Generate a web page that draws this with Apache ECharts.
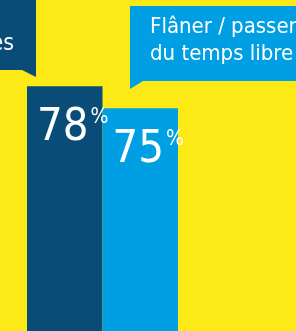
<!DOCTYPE html>
<html>
<head>
    <meta charset="utf-8">
    <title>Loisirs</title>
    <script src="https://cdn.jsdelivr.net/npm/echarts@6/dist/echarts.min.js"></script>
    <style>
        body { margin: 0; background: #fde916; }
    </style>
</head>
<body>
<div id="main" style="width: 296px;height:331px;"></div>
<script type="text/javascript">
    // données
    var categories = ['Activités culturelles', 'Flâner / passer du temps libre'];
    var values = [78, 75];
    var colors = ['#0a4c78', '#009fe3'];

    var font = '"Liberation Sans Narrow", "DejaVu Sans Condensed", sans-serif';

    var myChart = echarts.init(document.getElementById('main'));

    myChart.setOption({
        backgroundColor: '#fde916',
        animation: false,
        grid: { left: 27, right: 118, top: 0, bottom: 0 },
        xAxis: {
            type: 'category',
            data: categories,
            show: false
        },
        yAxis: {
            type: 'value',
            min: 44.6,
            max: 89.75,
            show: false
        },
        series: [{
            type: 'bar',
            barCategoryGap: 0,
            data: values.map(function (v, i) {
                return { value: v, itemStyle: { color: colors[i] } };
            }),
            label: {
                show: true,
                position: [10, 18],
                formatter: function (p) { return '{n|' + p.value + '}{p|%}'; },
                rich: {
                    n: { fontFamily: font, fontSize: 45, color: '#fff', lineHeight: 48 },
                    p: { fontFamily: font, fontSize: 21, color: '#fff', verticalAlign: 'top', padding: [3, 0, 0, 2] }
                }
            }
        }],
        graphic: [
            // bulle foncée (coupée à gauche)
            { type: 'rect', shape: { x: -10, y: 0, width: 46, height: 70 }, style: { fill: colors[0] } },
            { type: 'polygon', shape: { points: [[22, 70], [36, 70], [36, 77]] }, style: { fill: colors[0] } },
            { type: 'text', x: 14, y: 44, style: { text: 'es', fill: '#fff', fontFamily: font, fontSize: 23, align: 'right', verticalAlign: 'middle' } },
            // bulle claire
            { type: 'rect', shape: { x: 130, y: 6, width: 180, height: 75 }, style: { fill: colors[1] } },
            { type: 'polygon', shape: { points: [[130, 81], [143, 81], [130, 89]] }, style: { fill: colors[1] } },
            { type: 'text', x: 150, y: 14, style: { text: 'Flâner / passer\ndu temps libre', fill: '#fff', fontFamily: font, fontSize: 22, lineHeight: 27, align: 'left', verticalAlign: 'top' } }
        ]
    });
</script>
</body>
</html>
